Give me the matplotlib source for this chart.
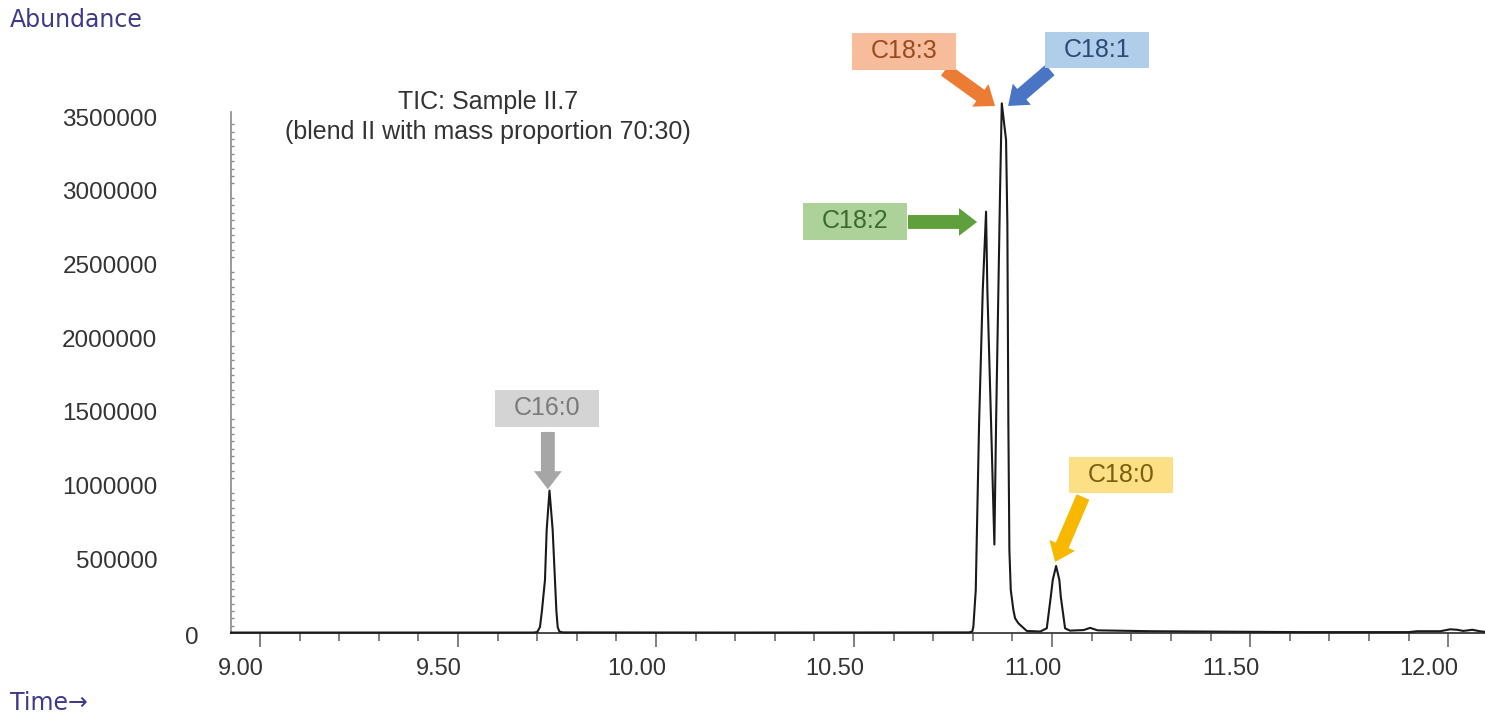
import numpy as np
import matplotlib.pyplot as plt
import matplotlib.transforms as mtransforms
from matplotlib.path import Path
from matplotlib.ticker import MultipleLocator

# TIC trace: retention time (min) and abundance
time = [8.927, 9.300, 9.690, 9.700, 9.707, 9.712, 9.7197, 9.724, 9.7311,
        9.7391, 9.7449, 9.7485, 9.7518, 9.756, 9.765, 10.20, 10.790,
        10.7985, 10.8013, 10.8073, 10.8157, 10.8250, 10.8333, 10.8366,
        10.8460, 10.8543, 10.8586, 10.8644, 10.8687, 10.8730, 10.8838,
        10.8871, 10.8896, 10.8922, 10.8957, 10.9023, 10.9066, 10.9149,
        10.9361, 10.9700, 10.9866, 10.9967, 11.0017, 11.0101, 11.0184,
        11.0220, 11.0328, 11.045, 11.080, 11.096, 11.115, 11.250, 11.626,
        11.900, 11.922, 11.980, 12.005, 12.023, 12.038, 12.061, 12.080, 12.093]
abundance = [3000, 3000, 3000, 6000, 40000, 150000, 360000, 700000, 966000,
             700000, 360000, 150000, 40000, 10000, 4000, 3000, 4000,
             10000, 43000, 291700, 1422600, 2327000, 2858000, 2327000,
             1422600, 600000, 1422600, 2327000, 3005000, 3593000, 3344500,
             2779000, 1422600, 563000, 291700, 156000, 100000, 65800,
             14000, 10000, 32000, 246000, 359500, 454500, 359500,
             246000, 32000, 16000, 20000, 35000, 18000, 12000, 6000,
             6000, 12000, 12000, 25000, 22000, 14000, 22000, 12000, 8000]

x_major = [9.00, 9.50, 10.00, 10.50, 11.00, 11.50, 12.00]
y_major = [0, 500000, 1000000, 1500000, 2000000, 2500000, 3000000, 3500000]

# peak labels: name, arrow tip (time, abundance)
peak_names = ['C16:0', 'C18:2', 'C18:3', 'C18:1', 'C18:0']
tip_time = [9.727, 10.8106, 10.856, 10.889, 11.0076]
tip_abund = [975000, 2788000, 3575000, 3575000, 481700]

# layout / styling of the labels (positions in data units)
box_xy = [(9.725, 1523000), (10.5025, 2791600), (10.626, 3945000),
          (11.1136, 3955000), (11.174, 1071900)]
tail_xy = [(9.727, 1363600), (10.636, 2788000), (10.7298, 3819000),
           (10.995, 3819000), (11.078, 922600)]
box_col = ['#d4d4d4', '#acd29a', '#f6bc9b', '#b0cdea', '#fddf86']
text_col = ['#7a7a7a', '#3b6b2c', '#9a4a1c', '#2c4a78', '#7a5e10']
arrow_col = ['#a6a6a6', '#5fa03c', '#ec7b34', '#4a74c4', '#f8b800']


def label_box(x0, y0, width, height, mutation_size):
    cx, cy = x0 + width / 2, y0 + height / 2
    w = width + 1.5 * mutation_size
    h = height + 0.5 * mutation_size
    pts = [(cx - w / 2, cy - h / 2), (cx + w / 2, cy - h / 2),
           (cx + w / 2, cy + h / 2), (cx - w / 2, cy + h / 2),
           (cx - w / 2, cy - h / 2)]
    return Path(pts, closed=True)


plt.rcParams['font.family'] = ['Liberation Sans', 'DejaVu Sans']

fig = plt.figure(figsize=(14.85, 7.16), dpi=100)
ax = fig.add_axes([231 / 1485, 83 / 716, 1254 / 1485, 521 / 716])

ax.plot(time, abundance, color='#1a1a1a', lw=1.5, clip_on=False, zorder=3)

ax.set_xlim(8.927, 12.093)
ax.set_ylim(0, 3534000)

for s in ['top', 'right']:
    ax.spines[s].set_visible(False)
ax.spines['left'].set_color('#8a8a8a')
ax.spines['left'].set_linewidth(1.2)
ax.spines['bottom'].set_color('#3a3a3a')
ax.spines['bottom'].set_linewidth(1.3)

ax.set_xticks(x_major)
ax.set_xticklabels(['%.2f' % v for v in x_major])
ax.xaxis.set_minor_locator(MultipleLocator(0.1))
ax.tick_params(axis='x', which='major', direction='out', length=10, width=1.2,
               color='#6a6a6a', labelsize=17, labelcolor='#333333', pad=8)
ax.tick_params(axis='x', which='minor', direction='out', length=6, width=1.2,
               color='#6a6a6a')

ax.set_yticks(y_major)
ax.set_yticklabels([str(v) for v in y_major])
ax.yaxis.set_minor_locator(MultipleLocator(50000))
ax.tick_params(axis='y', which='major', length=0, labelsize=17.5,
               labelcolor='#333333', pad=53)
ax.tick_params(axis='y', which='minor', direction='in', length=2.5, width=1,
               color='#8a8a8a')

# agilent-style offsets: x labels sit left of their ticks, "0" sits near the axis
xoff = mtransforms.ScaledTranslation(-19 / 100, 0, fig.dpi_scale_trans)
for lab in ax.xaxis.get_majorticklabels():
    lab.set_transform(lab.get_transform() + xoff)
zoff = mtransforms.ScaledTranslation(41 / 100, -3 / 100, fig.dpi_scale_trans)
ylabs = ax.yaxis.get_majorticklabels()
ylabs[0].set_transform(ylabs[0].get_transform() + zoff)

ax.text(0.205, 0.99, 'TIC: Sample II.7\n(blend II with mass proportion 70:30)',
        transform=ax.transAxes, ha='center', va='center', fontsize=18,
        color='#333333', linespacing=1.3)

for i, name in enumerate(peak_names):
    ax.annotate('', xy=(tip_time[i], tip_abund[i]), xytext=tail_xy[i],
                arrowprops=dict(arrowstyle='simple,head_length=1.3,head_width=2.0,tail_width=1.0',
                                fc=arrow_col[i], ec='none', mutation_scale=10,
                                shrinkA=0, shrinkB=0),
                annotation_clip=False, zorder=4)
    ax.text(box_xy[i][0], box_xy[i][1], name, ha='center', va='center',
            fontsize=18, color=text_col[i], zorder=5,
            bbox=dict(boxstyle=label_box, fc=box_col[i], ec='none'))

fig.text(10 / 1485, 1 - 20 / 716, 'Abundance', ha='left', va='center',
         fontsize=17, color='#3d3a8c', family=['DejaVu Sans'])
fig.text(10 / 1485, 1 - 703 / 716, 'Time\u2192', ha='left', va='center',
         fontsize=17, color='#3d3a8c', family=['DejaVu Sans'])

fig.savefig('out.png', dpi=100)
